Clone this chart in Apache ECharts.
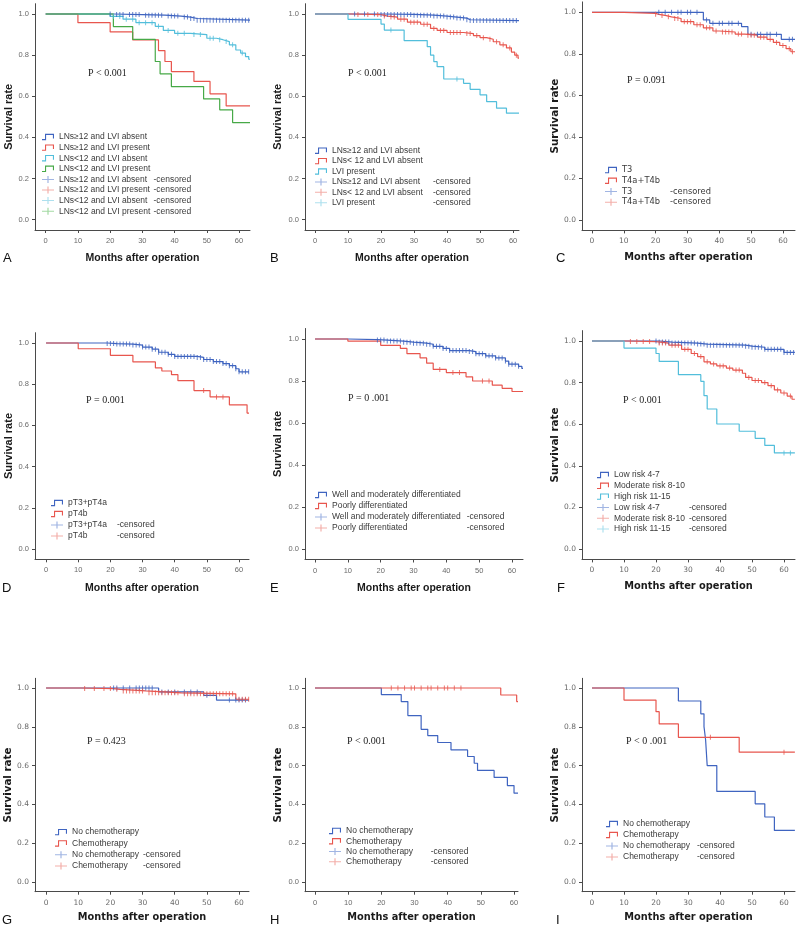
<!DOCTYPE html>
<html><head><meta charset="utf-8">
<script src="https://cdn.jsdelivr.net/npm/echarts@6/dist/echarts.min.js"></script>
<style>html,body{margin:0;padding:0;background:#fff}#c{width:800px;height:927px}</style>
</head><body><div id="c"></div>
<script>
// ---------- tick labels ----------
const xTickValues = [0, 10, 20, 30, 40, 50, 60];
const yTickValues = [0, 0.2, 0.4, 0.6, 0.8, 1.0];
const xTitle = 'Months after operation';
const yTitle = 'Survival rate';

// ---------- Panel A ----------
const A_names = ['LNs≥12 and LVI absent', 'LNs≥12 and LVI present', 'LNs<12 and LVI absent', 'LNs<12 and LVI present'];
const A_blue = [[0,1],[21,0.997],[30,0.994],[37,0.99],[42,0.985],[45,0.978],[47,0.97],[63.4,0.97]];
const A_blue_cens = [20,22,23,24,26,27,28,29,31,32,33,34,35,36,38,39,40,41,43,44,45,46,47,48,49,50,51,52,53,54,55,56,57,58,59,60,61,62,63];
const A_red = [[0,1],[10,0.958],[20,0.913],[27,0.874],[35,0.822],[37,0.769],[39,0.72],[46,0.672],[51,0.612],[56,0.553],[63.4,0.553]];
const A_red_cens = [];
const A_cyan = [[0,1],[20,0.988],[24,0.975],[28,0.958],[34,0.94],[36.5,0.92],[40,0.906],[45,0.9],[50,0.882],[53,0.875],[55,0.866],[57,0.85],[59,0.825],[60.5,0.81],[62,0.793],[63,0.78],[63.4,0.78]];
const A_cyan_cens = [21,23,25,27,29,31,33,35,38,41,43,46,48,51,52,54,56,58,61];
const A_green = [[0,1],[21,0.939],[27,0.877],[34,0.769],[35.5,0.709],[39,0.647],[49,0.587],[54,0.534],[58,0.472],[63.4,0.472]];
const A_green_cens = [];

// ---------- Panel B ----------
const B_names = ['LNs≥12 and LVI absent', 'LNs< 12 and LVI absent', 'LVI present'];
const B_blue = [[0,1],[20,0.998],[30,0.994],[36,0.99],[40,0.985],[43,0.98],[46,0.972],[47,0.968],[61.8,0.968]];
const B_blue_cens = [12,15,18,20,21,22,23,24,25,26,27,28,29,30,31,32,33,34,35,36,37,38,39,40,41,42,43,44,45,46,47,48,49,50,51,52,53,54,55,56,57,58,59,60,61];
const B_red = [[0,1],[11,0.997],[20,0.99],[22,0.985],[25,0.975],[28,0.96],[32,0.95],[35,0.93],[37,0.92],[40,0.91],[45,0.905],[48,0.895],[50,0.885],[52,0.877],[54,0.865],[56,0.85],[58,0.835],[59.5,0.815],[60.5,0.8],[61.5,0.785],[61.8,0.785]];
const B_red_cens = [13,16,19,21,23,24,26,27,29,30,31,33,34,36,38,39,41,42,43,44,46,47,49,51,53,55,57,59,61];
const B_cyan = [[0,1],[10,0.974],[20,0.951],[21,0.922],[27,0.871],[34,0.841],[35,0.8],[36,0.768],[37,0.744],[39,0.684],[45,0.663],[47,0.634],[50,0.607],[52,0.574],[55,0.542],[58,0.518],[61.8,0.518]];
const B_cyan_cens = [23, 43];

// ---------- Panel C ----------
const C_names = ['T3', 'T4a+T4b'];
const C_blue = [[0,1],[35,0.963],[37,0.947],[47,0.931],[49,0.894],[59.5,0.87],[63.8,0.87]];
const C_blue_cens = [21,23,25,27,28,30,31,33,36,38,40,41,43,44,46,50,52,53,55,56,58,62,63];
const C_red = [[0,1],[10,0.995],[20,0.99],[21,0.985],[23,0.978],[25,0.97],[28,0.955],[32,0.94],[35,0.925],[38,0.91],[40,0.905],[45,0.895],[48,0.89],[52,0.88],[55,0.87],[57,0.855],[59,0.84],[61,0.825],[62.5,0.81],[63.8,0.81]];
const C_red_cens = [20,22,24,26,27,29,30,31,33,34,36,37,39,41,42,43,44,46,47,49,50,51,53,54,56,58,60,62,63];

// ---------- Panel D ----------
const D_names = ['pT3+pT4a', 'pT4b'];
const D_blue = [[0,1],[19,0.997],[22,0.995],[27,0.99],[30,0.98],[33,0.97],[35,0.955],[38,0.945],[40,0.935],[47,0.93],[49,0.92],[52,0.91],[55,0.9],[57,0.89],[59,0.875],[60,0.86],[63.1,0.86]];
const D_blue_cens = [19,20,21,22,23,24,25,26,27,28,29,30,31,32,33,34,35,36,37,38,39,40,41,42,43,44,45,46,47,48,49,50,51,52,53,54,55,56,57,58,59,60,61,62,63];
const D_red = [[0,1],[10,0.972],[20,0.94],[27,0.908],[34,0.879],[36,0.864],[39,0.846],[41,0.817],[46,0.769],[51,0.738],[57,0.7],[62.5,0.66],[63.1,0.66]];
const D_red_cens = [49, 53, 55];

// ---------- Panel E ----------
const E_names = ['Well and moderately differentiated', 'Poorly differentiated'];
const E_blue = [[0,1],[10,0.997],[19,0.995],[22,0.99],[27,0.985],[30,0.98],[34,0.975],[36,0.965],[39,0.955],[41,0.945],[47,0.94],[49,0.93],[52,0.92],[55,0.91],[58,0.895],[59,0.88],[62,0.87],[63,0.86],[63.35,0.86]];
const E_blue_cens = [19,20,21,22,23,24,25,26,27,28,29,30,31,32,33,34,35,36,37,38,39,40,41,42,43,44,45,46,47,48,49,50,51,52,53,54,55,56,57,58,59,60,61,62];
const E_red = [[0,1],[10,0.99],[20,0.97],[26,0.955],[28,0.93],[32,0.91],[34,0.885],[36,0.855],[40,0.84],[46,0.82],[48,0.8],[54,0.78],[57,0.765],[60,0.75],[63.35,0.75]];
const E_red_cens = [38, 42, 44, 51, 53];

// ---------- Panel F ----------
const F_names = ['Low risk 4-7', 'Moderate risk 8-10', 'High risk 11-15'];
const F_blue = [[0,1],[21,0.995],[25,0.99],[33,0.985],[36,0.98],[48,0.975],[50,0.97],[54,0.96],[60,0.945],[63.4,0.945]];
const F_blue_cens = [20,21,22,23,24,25,26,27,28,29,30,31,32,33,34,35,36,37,38,39,40,41,42,43,44,45,46,47,48,49,50,51,52,53,54,55,56,57,58,59,60,61,62,63];
const F_red = [[0,1],[11,0.997],[20,0.99],[24,0.98],[28,0.96],[31,0.94],[33,0.925],[35,0.9],[37,0.89],[39,0.88],[42,0.87],[44,0.86],[47,0.845],[48,0.825],[50,0.81],[53,0.8],[55,0.785],[57,0.765],[59,0.75],[61,0.735],[62.5,0.72],[63.4,0.72]];
const F_red_cens = [12,14,16,18,21,22,23,25,26,27,29,30,32,34,36,38,40,41,43,45,46,49,51,52,54,56,58,60,62];
const F_cyan = [[0,1],[10,0.966],[20,0.94],[21,0.902],[27,0.838],[34,0.806],[35,0.737],[36,0.673],[39,0.601],[46,0.566],[51,0.532],[54,0.498],[57,0.462],[63.4,0.462]];
const F_cyan_cens = [60, 62];

// ---------- Panel G ----------
const G_names = ['No chemotherapy', 'Chemotherapy'];
const G_blue = [[0,1],[35,0.98],[49,0.962],[53,0.938],[63.1,0.938]];
const G_blue_cens = [21,22,24,26,28,29,30,31,32,33,36,38,40,43,45,47,50,57,59,60,61,62];
const G_red = [[0,1],[11,0.997],[21,0.993],[23,0.985],[31,0.975],[42,0.97],[59,0.942],[63.1,0.942]];
const G_red_cens = [12,15,18,20,22,24,25,26,27,28,29,30,32,33,34,35,36,37,38,39,40,41,43,44,45,46,47,48,49,50,51,52,53,54,55,56,57,58,60,61,62,63];

// ---------- Panel H ----------
const H_names = ['No chemotherapy', 'Chemotherapy'];
const H_blue = [[0,1],[20,0.966],[26,0.93],[28,0.858],[32,0.787],[34,0.755],[37,0.719],[41,0.681],[46,0.647],[48,0.612],[49,0.575],[54,0.539],[58,0.497],[60,0.458],[61.2,0.458]];
const H_blue_cens = [];
const H_red = [[0,1],[56,0.964],[60.8,0.93],[61.2,0.93]];
const H_red_cens = [23,25,27,29,30,32,34,35,37,39,40,42,44];

// ---------- Panel I ----------
const I_names = ['No chemotherapy', 'Chemotherapy'];
const I_blue = [[0,1],[27,0.933],[34,0.867],[35,0.801],[35.5,0.733],[36,0.6],[39,0.467],[51,0.403],[54,0.335],[57,0.266],[63.4,0.266]];
const I_blue_cens = [];
const I_red = [[0,1],[10,0.938],[20,0.878],[21,0.815],[27,0.746],[46,0.669],[63.4,0.669]];
const I_red_cens = [37, 60];

// ---------- styling ----------
const COL = {blue:'#3f64c0', red:'#e8564e', cyan:'#52bedb', green:'#47a947'};
const COL_LIGHT = {blue:'#8aa3dc', red:'#f09b95', cyan:'#9ad8ea', green:'#8ccf8c'};
const ARIAL = 'Liberation Sans, Arial, sans-serif';
const LUCIDA = 'DejaVu Sans, sans-serif';
const SERIF = 'Liberation Serif, Times New Roman, serif';
const STEP_ICON = 'path://M0,5.6L3,5.6L3,0.3L12,0.3L12,5L10.9,5L10.9,1.4L4.1,1.4L4.1,6.7L0,6.7Z';
const PLUS_ICON = 'path://M0,3L5.4,3L5.4,0L6.6,0L6.6,3L12,3L12,4L6.6,4L6.6,7L5.4,7L5.4,4L0,4Z';

function survAt(steps, t) {
  let s = steps[0][1];
  for (const p of steps) { if (p[0] <= t) s = p[1]; else break; }
  return s;
}

const panels = [
  {letter:'A', grid:{left:35, top:3.7, width:215, height:226.3}, xmin:-3.32, xmax:63.4,
   tickFont:ARIAL, titleFont:ARIAL, legFont:ARIAL,
   curves:[[A_names[0],'blue',A_blue,A_blue_cens],[A_names[1],'red',A_red,A_red_cens],[A_names[2],'cyan',A_cyan,A_cyan_cens],[A_names[3],'green',A_green,A_green_cens]],
   leg:{left:42, top:131.7, pitch:10.6, w:94.5}, p:{text:'P < 0.001', x:88, y:73}, lx:3, ly:258, xGap:22.5, yGap:19.5},
  {letter:'B', grid:{left:305, top:3.7, width:214, height:226.3}, xmin:-3.03, xmax:61.8,
   tickFont:ARIAL, titleFont:ARIAL, legFont:ARIAL,
   curves:[[B_names[0],'blue',B_blue,B_blue_cens],[B_names[1],'red',B_red,B_red_cens],[B_names[2],'cyan',B_cyan,B_cyan_cens]],
   leg:{left:315, top:145.5, pitch:10.4, w:101}, p:{text:'P < 0.001', x:348, y:73}, lx:270, ly:258, xGap:22.5, yGap:21.5},
  {letter:'C', grid:{left:582, top:1.9, width:213, height:228.5}, xmin:-3.14, xmax:63.8,
   tickFont:LUCIDA, titleFont:LUCIDA, legFont:LUCIDA,
   curves:[[C_names[0],'blue',C_blue,C_blue_cens],[C_names[1],'red',C_red,C_red_cens]],
   leg:{left:605, top:164.7, pitch:10.7, w:48}, p:{text:'P = 0.091', x:627, y:80}, lx:556, ly:258, xGap:22, yGap:21.5},
  {letter:'D', grid:{left:35, top:332.7, width:214, height:226.6}, xmin:-3.44, xmax:63.1,
   tickFont:ARIAL, titleFont:ARIAL, legFont:ARIAL,
   curves:[[D_names[0],'blue',D_blue,D_blue_cens],[D_names[1],'red',D_red,D_red_cens]],
   leg:{left:51, top:497.5, pitch:11, w:49}, p:{text:'P = 0.001', x:86, y:400}, lx:2, ly:588, xGap:23.5, yGap:21},
  {letter:'E', grid:{left:305, top:328.5, width:218, height:231}, xmin:-3.05, xmax:63.35,
   tickFont:ARIAL, titleFont:ARIAL, legFont:ARIAL,
   curves:[[E_names[0],'blue',E_blue,E_blue_cens],[E_names[1],'red',E_red,E_red_cens]],
   leg:{left:315, top:489.5, pitch:11, w:134.7}, p:{text:'P = 0 .001', x:348, y:398}, lx:270, ly:588, xGap:23, yGap:21.5},
  {letter:'F', grid:{left:582, top:330.6, width:213, height:228.8}, xmin:-3.125, xmax:63.44,
   tickFont:LUCIDA, titleFont:LUCIDA, legFont:ARIAL,
   curves:[[F_names[0],'blue',F_blue,F_blue_cens],[F_names[1],'red',F_red,F_red_cens],[F_names[2],'cyan',F_cyan,F_cyan_cens]],
   leg:{left:597, top:469.6, pitch:10.8, w:75}, p:{text:'P < 0.001', x:623, y:400}, lx:557, ly:588, xGap:22.5, yGap:21.5},
  {letter:'G', grid:{left:35, top:678.3, width:214, height:213.4}, xmin:-3.44, xmax:63.1,
   tickFont:LUCIDA, titleFont:LUCIDA, legFont:ARIAL,
   curves:[[G_names[0],'blue',G_blue,G_blue_cens],[G_names[1],'red',G_red,G_red_cens]],
   leg:{left:55, top:826.5, pitch:11.3, w:71}, p:{text:'P = 0.423', x:87, y:741}, lx:2, ly:920, xGap:21, yGap:21.5},
  {letter:'H', grid:{left:305, top:678.3, width:213, height:213.4}, xmin:-3.01, xmax:61.2,
   tickFont:ARIAL, titleFont:LUCIDA, legFont:ARIAL,
   curves:[[H_names[0],'blue',H_blue,H_blue_cens],[H_names[1],'red',H_red,H_red_cens]],
   leg:{left:329, top:825.8, pitch:10.3, w:84.7}, p:{text:'P < 0.001', x:347, y:741}, lx:270, ly:920, xGap:21, yGap:21.5},
  {letter:'I', grid:{left:582, top:678.3, width:213, height:213.4}, xmin:-3.125, xmax:63.44,
   tickFont:LUCIDA, titleFont:LUCIDA, legFont:ARIAL,
   curves:[[I_names[0],'blue',I_blue,I_blue_cens],[I_names[1],'red',I_red,I_red_cens]],
   leg:{left:606, top:818.5, pitch:11, w:74}, p:{text:'P < 0 .001', x:626, y:741}, lx:556, ly:920, xGap:21, yGap:20}
];

const option = {animation:false, backgroundColor:'#fff', grid:[], xAxis:[], yAxis:[], series:[], legend:[], graphic:[]};

panels.forEach((P, i) => {
  option.grid.push(Object.assign({containLabel:false}, P.grid));
  const tickFs = 7.5;
  const titleFs = P.titleFont === LUCIDA ? 9.8 : 10.5;
  option.xAxis.push({
    gridIndex:i, type:'value', min:P.xmin, max:P.xmax,
    axisLine:{show:true, onZero:false, lineStyle:{color:'#4a4a4a', width:1}},
    axisTick:{show:true, customValues:xTickValues, length:3, lineStyle:{color:'#4a4a4a'}},
    axisLabel:{customValues:xTickValues, fontSize:tickFs, fontFamily:P.tickFont, color:'#6a6a6a', margin:7},
    splitLine:{show:false},
    name:xTitle, nameLocation:'middle', nameGap:P.xGap,
    nameTextStyle:{fontSize:titleFs, fontWeight:'bold', fontFamily:P.titleFont, color:'#1a1a1a'}
  });
  option.yAxis.push({
    gridIndex:i, type:'value', min:-0.05, max:1.05,
    axisLine:{show:true, onZero:false, lineStyle:{color:'#4a4a4a', width:1}},
    axisTick:{show:true, customValues:yTickValues, length:3, lineStyle:{color:'#4a4a4a'}},
    axisLabel:{customValues:yTickValues, fontSize:tickFs, fontFamily:P.tickFont, color:'#6a6a6a', margin:6,
               formatter:v => v.toFixed(1)},
    splitLine:{show:false},
    name:yTitle, nameLocation:'middle', nameGap:P.yGap, nameRotate:90,
    nameTextStyle:{fontSize:titleFs + 0.5, fontWeight:'bold', fontFamily:P.titleFont, color:'#1a1a1a'}
  });
  const legData = [], legCens = [];
  P.curves.forEach(([name, ck, steps, cens]) => {
    option.series.push({
      type:'line', name:name, xAxisIndex:i, yAxisIndex:i, data:steps, step:'end',
      symbol:'none', showSymbol:false, silent:true,
      lineStyle:{color:COL[ck], width:1.2}, itemStyle:{color:COL[ck]}, z:2
    });
    option.series.push({
      type:'scatter', name:name + ' -censored', xAxisIndex:i, yAxisIndex:i,
      data:cens.map(t => [t, survAt(steps, t)]),
      symbol:'rect', symbolSize:[1, 5], silent:true,
      itemStyle:{color:COL[ck]}, z:3
    });
    legData.push({name:name, icon:STEP_ICON, itemStyle:{color:COL[ck]}});
    legCens.push({name:name + ' -censored', icon:PLUS_ICON, itemStyle:{color:COL_LIGHT[ck]}});
  });
  const legFs = P.legFont === LUCIDA ? 8.3 : 8.5;
  option.legend.push({
    orient:'vertical', left:P.leg.left, top:P.leg.top, padding:0, itemGap:0,
    itemWidth:12, itemHeight:7, selectedMode:false,
    data:legData.concat(legCens),
    formatter: n => {
      if (n.endsWith(' -censored')) return '{a|' + n.slice(0, -10) + '}{b|-censored}';
      return '{a|' + n + '}';
    },
    textStyle:{fontSize:legFs, fontFamily:P.legFont, color:'#3a3a3a', lineHeight:P.leg.pitch,
      rich:{
        a:{width:P.leg.w, fontSize:legFs, fontFamily:P.legFont, color:'#3a3a3a', lineHeight:P.leg.pitch},
        b:{fontSize:legFs, fontFamily:P.legFont, color:'#3a3a3a', lineHeight:P.leg.pitch}
      }}
  });
  option.graphic.push({type:'text', x:P.p.x, y:P.p.y, silent:true,
    style:{text:P.p.text, font:'10px ' + SERIF, fill:'#222', textVerticalAlign:'middle', verticalAlign:'middle'}});
  option.graphic.push({type:'text', x:P.lx, y:P.ly, silent:true,
    style:{text:P.letter, font:'13px ' + ARIAL, fill:'#111', textVerticalAlign:'middle', verticalAlign:'middle'}});
});

const chart = echarts.init(document.getElementById('c'), null, {renderer:'canvas'});
chart.setOption(option);
</script>
</body></html>
